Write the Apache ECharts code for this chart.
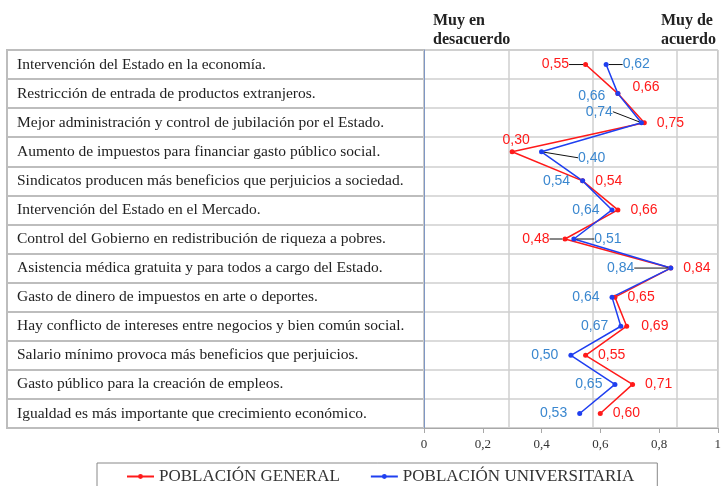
<!DOCTYPE html>
<html>
<head>
<meta charset="utf-8">
<script src="https://cdn.jsdelivr.net/npm/echarts@6/dist/echarts.min.js"></script>
<style>
  html, body { margin: 0; padding: 0; background: #fff; }
  #chart { width: 724px; height: 486px; }
</style>
</head>
<body>
<div id="chart"></div>
<script>
// enunciados (filas de la tabla)
const categories = [
  'Intervención del Estado en la economía.',
  'Restricción de entrada de productos extranjeros.',
  'Mejor administración y control de jubilación por el Estado.',
  'Aumento de impuestos para financiar gasto público social.',
  'Sindicatos producen más beneficios que perjuicios a sociedad.',
  'Intervención del Estado en el Mercado.',
  'Control del Gobierno en redistribución de riqueza a pobres.',
  'Asistencia médica gratuita y para todos a cargo del Estado.',
  'Gasto de dinero de impuestos en arte o deportes.',
  'Hay conflicto de intereses entre negocios y bien común social.',
  'Salario mínimo provoca más beneficios que perjuicios.',
  'Gasto público para la creación de empleos.',
  'Igualdad es más importante que crecimiento económico.'
]
const poblacionGeneral = [0.55, 0.66, 0.75, 0.30, 0.54, 0.66, 0.48, 0.84, 0.65, 0.69, 0.55, 0.71, 0.60]
const poblacionUniversitaria = [0.62, 0.66, 0.74, 0.40, 0.54, 0.64, 0.51, 0.84, 0.64, 0.67, 0.50, 0.65, 0.53]
const xTicks = [0, 0.2, 0.4, 0.6, 0.8, 1]

const SERIF = '"Liberation Serif", "DejaVu Serif", serif'
const SANS = '"Liberation Sans", Arial, sans-serif'
const ROJO = '#ff1a1a'
const AZUL = '#1f3ff0'
const coma = v => v.toFixed(2).replace('.', ',')

// posicion de etiquetas: [position, distance, dx, dy, guia]
const etiquetasRojo = {
  0: ['left', 4, -10, 0, true],
  1: ['right', 12, 0, -6, false],
  3: ['top', 2, 4, 0, false],
  6: ['left', 4, -9, 0, true],
  9: ['right', 12, 0, 0, false]
}
const etiquetasAzul = {
  0: ['right', 4, 10, 0, true],
  1: ['left', 10, 0, 3, false],
  2: ['left', 4, -22, -11, true],
  3: ['right', 4, 30, 6, true],
  6: ['right', 4, 14, 0, true],
  7: ['left', 4, -30, 0, true]
}

function armarDatos (valores, cfg) {
  return valores.map((v, i) => {
    const c = cfg[i]
    const item = { value: [v, i] }
    if (c) {
      item.label = { position: c[0], distance: c[1] }
      if (c[4]) item.labelLine = { show: true, lineStyle: { color: '#111', width: 1 } }
    }
    return item
  })
}

const chart = echarts.init(document.getElementById('chart'))

const option = {
  animation: false,
  graphic: [
    {
      type: 'text', left: 433, top: 11,
      style: { text: 'Muy en\ndesacuerdo', font: 'bold 16px ' + SERIF, fill: '#222', lineHeight: 19 }
    },
    {
      type: 'text', right: 8, top: 11,
      style: { text: 'Muy de\nacuerdo', font: 'bold 16px ' + SERIF, fill: '#222', lineHeight: 19, align: 'right' }
    }
  ],
  legend: {
    left: 97,
    top: 463,
    padding: [5, 23, 12, 29],
    borderColor: '#888',
    borderWidth: 1,
    itemWidth: 27,
    itemHeight: 6,
    itemGap: 30,
    textStyle: { fontFamily: SERIF, fontSize: 17, color: '#333' },
    data: ['POBLACIÓN GENERAL', 'POBLACIÓN UNIVERSITARIA']
  },
  grid: [
    { left: 424, top: 50, width: 296, height: 378, show: true, borderColor: '#a8a8a8', borderWidth: 1 },
    { left: 7, top: 50, width: 417, height: 378, show: true, borderColor: '#bdbdbd', borderWidth: 2 }
  ],
  xAxis: [
    {
      type: 'value', gridIndex: 0, min: 0, max: 1, interval: 0.2,
      axisLine: { show: true, lineStyle: { color: '#a8a8a8' } },
      axisTick: { show: true, length: 5, lineStyle: { color: '#a8a8a8' } },
      splitLine: { show: false },
      axisLabel: {
        margin: 10, color: '#333', fontFamily: SERIF, fontSize: 13,
        customValues: xTicks,
        formatter: v => String(v).replace('.', ',')
      }
    },
    {
      // columnas de fondo de la tabla
      type: 'value', gridIndex: 0, min: 0, max: 1, interval: 85 / 296,
      position: 'top', axisLine: { show: false }, axisTick: { show: false }, axisLabel: { show: false },
      splitLine: { show: true, lineStyle: { color: '#cfcfcf', width: 1.5 } }
    },
    { type: 'value', gridIndex: 1, min: 0, max: 1, show: false }
  ],
  yAxis: [
    {
      type: 'category', gridIndex: 0, inverse: true, data: categories,
      axisLine: { show: true, lineStyle: { color: '#7f97c4' } },
      axisTick: { show: false }, axisLabel: { show: false },
      splitLine: { show: true, lineStyle: { color: '#cfcfcf', width: 1.5 } }
    },
    {
      type: 'category', gridIndex: 1, inverse: true, data: categories,
      axisLine: { show: true, lineStyle: { color: '#bdbdbd', width: 2 } },
      axisTick: { show: false },
      splitLine: { show: true, lineStyle: { color: '#bdbdbd', width: 2 } },
      axisLabel: {
        inside: true, margin: 10, color: '#222', fontFamily: SERIF, fontSize: 15.5
      }
    }
  ],
  series: [
    {
      name: 'POBLACIÓN GENERAL', type: 'line', xAxisIndex: 0, yAxisIndex: 0,
      data: armarDatos(poblacionGeneral, etiquetasRojo),
      color: ROJO, symbol: 'circle', symbolSize: 5,
      lineStyle: { width: 1.5, color: ROJO },
      label: {
        show: true, position: 'right', distance: 10, color: ROJO,
        fontFamily: SANS, fontSize: 14,
        formatter: p => coma(p.value[0])
      },
      labelLayout: p => {
        const c = etiquetasRojo[p.dataIndex]
        return c ? { dx: c[2], dy: c[3] } : {}
      }
    },
    {
      name: 'POBLACIÓN UNIVERSITARIA', type: 'line', xAxisIndex: 0, yAxisIndex: 0,
      data: armarDatos(poblacionUniversitaria, etiquetasAzul),
      color: AZUL, symbol: 'circle', symbolSize: 5,
      lineStyle: { width: 1.5, color: AZUL },
      label: {
        show: true, position: 'left', distance: 10, color: '#3a87cf',
        fontFamily: SANS, fontSize: 14,
        formatter: p => coma(p.value[0])
      },
      labelLayout: p => {
        const c = etiquetasAzul[p.dataIndex]
        return c ? { dx: c[2], dy: c[3] } : {}
      }
    }
  ]
}

chart.setOption(option)
</script>
</body>
</html>
